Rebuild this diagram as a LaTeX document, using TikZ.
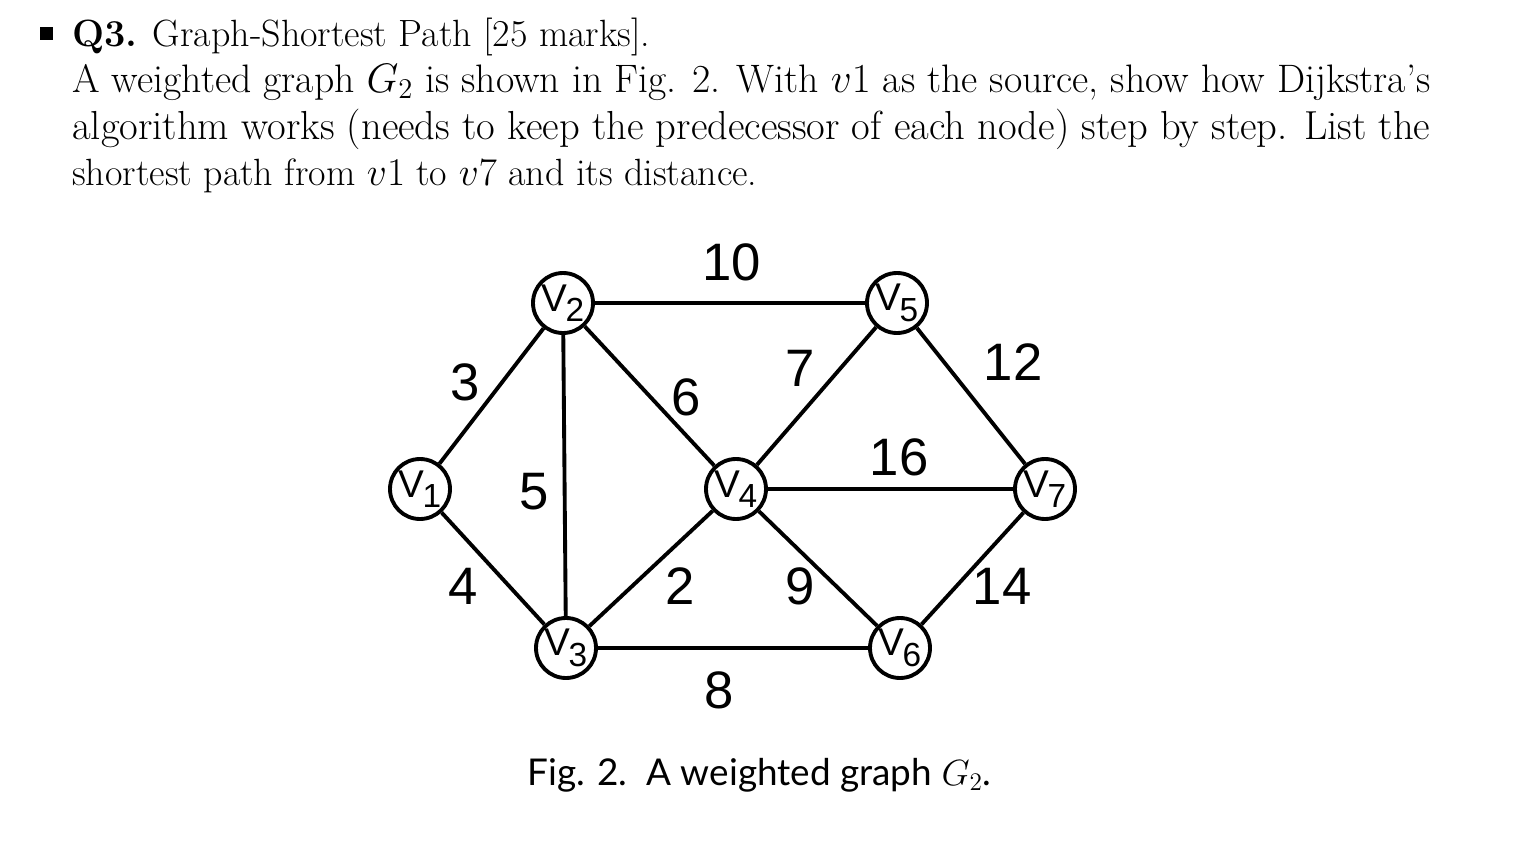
\documentclass[tikz,border=0pt]{standalone}
\usepackage{fontspec}
\newfontfamily\gf{Liberation Sans}
\newfontfamily\cf{Lato}
\begin{document}
\begin{tikzpicture}[x=0.02cm,y=-0.02cm,
  vtx/.style={circle,draw,line width=2.2pt,minimum size=60*0.02cm,inner sep=0pt,font=\gf\fontsize{22}{22}\selectfont},
  edge/.style={line width=2.2pt},
  wt/.style={font=\gf\fontsize{30}{30}\selectfont},
  hl/.style={anchor=base west,inner sep=0pt}]
\useasboundingbox (0,0) rectangle (1518,842);
\newcommand{\vl}[1]{V\kern-1pt\raisebox{-6pt}{\fontsize{19}{19}\selectfont #1}}
% header
\fill (40,27) rectangle (53,40);
\node[hl] (h1) at (72,46) {\resizebox{578\dimexpr0.02cm\relax}{!}{\fontsize{20}{20}\selectfont\textbf{Q3.} Graph-Shortest Path [25 marks].}};
\node[hl] (h2) at (72,92) {\resizebox{1358\dimexpr0.02cm\relax}{!}{\fontsize{20}{20}\selectfont A weighted graph $G_2$ is shown in Fig. 2. With $v1$ as the source, show how Dijkstra's}};
\node[hl] (h3) at (72,139) {\resizebox{1358\dimexpr0.02cm\relax}{!}{\fontsize{20}{20}\selectfont algorithm works (needs to keep the predecessor of each node) step by step. List the}};
\node[hl] (h4) at (72,185) {\resizebox{685\dimexpr0.02cm\relax}{!}{\fontsize{20}{20}\selectfont shortest path from $v1$ to $v7$ and its distance.}};
% nodes
\node[vtx] (v1) at (420,489) {\vl1};
\node[vtx] (v2) at (563,303) {\vl2};
\node[vtx] (v3) at (566,648) {\vl3};
\node[vtx] (v4) at (736,489) {\vl4};
\node[vtx] (v5) at (897,303) {\vl5};
\node[vtx] (v6) at (900,648) {\vl6};
\node[vtx] (v7) at (1045,489) {\vl7};
\foreach \a/\b in {v1/v2,v1/v3,v2/v3,v2/v4,v2/v5,v3/v4,v3/v6,v4/v5,v4/v6,v4/v7,v5/v7,v6/v7}
  \draw[edge] (\a) -- (\b);
% weights
\node[wt] (w10) at (732,262) {10};
\node[wt] (w3) at (465,382) {3};
\node[wt] (w6) at (686,397) {6};
\node[wt] (w7) at (800,368) {7};
\node[wt] (w12) at (1013,362) {12};
\node[wt] (w16) at (899,457) {16};
\node[wt] (w5) at (534,492) {5};
\node[wt] (w4) at (463,586) {4};
\node[wt] (w2) at (680,586) {2};
\node[wt] (w9) at (800,586) {9};
\node[wt] (w14) at (1002,586) {14};
\node[wt] (w8) at (719,690) {8};
\node[anchor=west,inner sep=0pt] (cap) at (527,775) {\cf\fontsize{21}{21}\selectfont Fig. 2.\ \ A weighted graph $G_2$.};
\end{tikzpicture}
\end{document}
